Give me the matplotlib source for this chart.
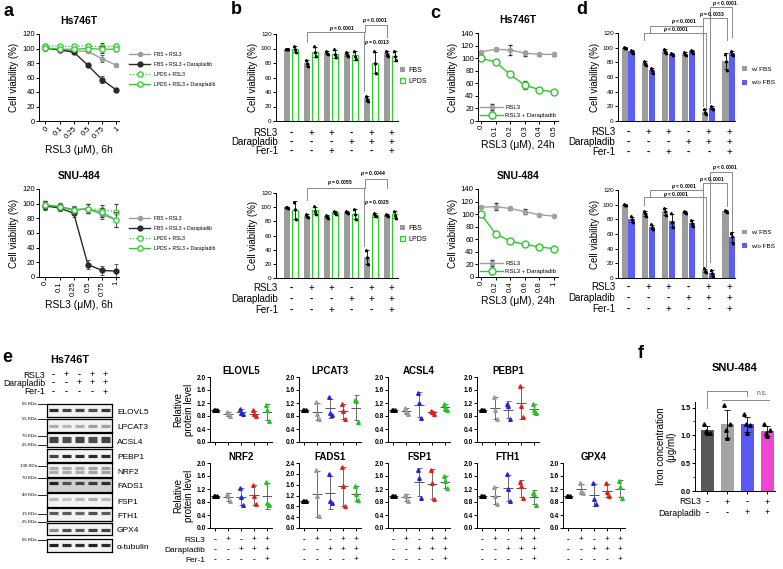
import matplotlib
matplotlib.use('Agg')
import matplotlib.pyplot as plt
import matplotlib.transforms as mtransforms
from matplotlib.lines import Line2D
from matplotlib.patches import Patch
import numpy as np

plt.rcParams['font.family'] = ['Liberation Sans', 'DejaVu Sans']
plt.rcParams['axes.linewidth'] = 0.7
plt.rcParams['mathtext.fontset'] = 'custom'
plt.rcParams['mathtext.it'] = 'Liberation Sans:italic:bold'

W, H = 783, 569
fig = plt.figure(figsize=(W / 100, H / 100), dpi=100)

GRAY = '#9c9c9c'
DARK = '#2a2a2a'
GREEN = '#2dc92d'
BLUE = '#5c5cf6'

# ---------------- data ----------------
# a: RSL3 dose, 6h (mean, sd)
a_dose = ['0', '0.1', '0.25', '0.5', '0.75', '1']
a_labels = ['FBS + RSL3', 'FBS + RSL3 + Darapladib', 'LPDS + RSL3', 'LPDS + RSL3 + Darapladib']
a_hs_fbs = [100, 98, 97, 96, 86, 77]
a_hs_fbs_dara = [101, 98, 95, 77, 57, 43]
a_hs_lpds = [104, 103, 103, 104, 102, 104]
a_hs_lpds_dara = [101, 99, 99, 100, 99, 99]
a_hs_err = [2, 2, 2, 2, 5, 2]
a_snu_fbs = [98, 96, 92, 93, 85, 78]
a_snu_fbs_dara = [97, 94, 87, 17, 9, 8]
a_snu_lpds = [98, 97, 91, 93, 92, 89]
a_snu_lpds_dara = [98, 96, 91, 93, 88, 78]
a_snu_err = [5, 4, 5, 6, 6, 10]

# b / d: treatment groups
cond_rsl3 = ['-', '+', '+', '-', '+', '+']
cond_dara = ['-', '-', '-', '+', '+', '+']
cond_fer1 = ['-', '-', '+', '-', '-', '+']
b_hs_fbs = [[100, 100, 99], [84, 80, 76], [97, 94, 92], [95, 92, 89], [35, 31, 28], [97, 93, 90]]
b_hs_lpds = [[104, 99, 95], [103, 95, 89], [99, 92, 88], [97, 90, 85], [96, 80, 66], [97, 89, 84]]
b_snu_fbs = [[100, 100, 99], [90, 88, 86], [89, 87, 85], [94, 93, 92], [40, 30, 20], [91, 89, 87]]
b_snu_lpds = [[108, 97, 83], [101, 95, 90], [95, 93, 91], [97, 90, 84], [92, 89, 87], [95, 89, 85]]
d_hs_fbs = [[101, 100, 99], [82, 79, 77], [98, 95, 93], [94, 92, 90], [16, 12, 10], [92, 82, 70]]
d_hs_nofbs = [[97, 95, 93], [72, 69, 66], [93, 91, 90], [97, 95, 93], [20, 18, 16], [95, 92, 90]]
d_snu_fbs = [[101, 100, 99], [92, 88, 85], [96, 91, 86], [91, 90, 89], [13, 10, 8], [93, 91, 90]]
d_snu_nofbs = [[84, 80, 77], [73, 69, 67], [88, 77, 70], [79, 75, 71], [11, 7, 3], [62, 57, 48]]

# c: RSL3 dose, 24h
c_hs_dose = [0, 0.1, 0.2, 0.3, 0.4, 0.5]
c_hs_rsl3 = [110, 114, 113, 108, 106, 106]
c_hs_rsl3_err = [2, 2, 8, 4, 2, 2]
c_hs_dara = [100, 94, 74, 57, 50, 46]
c_hs_dara_err = [2, 3, 2, 6, 2, 2]
c_snu_dose = [0, 0.2, 0.4, 0.6, 0.8, 1.0]
c_snu_rsl3 = [111, 112, 109, 104, 99, 97]
c_snu_rsl3_err = [2, 5, 2, 4, 2, 2]
c_snu_dara = [100, 69, 57, 52, 48, 45]
c_snu_dara_err = [1, 3, 2, 2, 2, 2]

# e: western blot
e_rsl3 = ['-', '+', '-', '+', '+']
e_dara = ['-', '-', '+', '+', '+']
e_fer1 = ['-', '-', '-', '-', '+']
blot_names = ['ELOVL5', 'LPCAT3', 'ACSL4', 'PEBP1', 'NRF2', 'FADS1', 'FSP1', 'FTH1', 'GPX4', 'α-tubulin']
blot_kda = ['55 KDa', '55 KDa', '70 KDa', '25 KDa', '130 KDa', '70 KDa', '40 KDa', '15 KDa', '25 KDa', '55 KDa']
band_elovl5 = [0.9, 0.8, 0.8, 0.75, 0.85]
band_lpcat3 = [0.35, 0.3, 0.35, 0.4, 0.4]
band_acsl4 = [0.8, 0.75, 0.8, 0.75, 0.8]
band_pebp1 = [0.8, 0.9, 0.9, 0.9, 0.9]
band_nrf2 = [0.35, 0.35, 0.35, 0.4, 0.4]
band_fads1 = [0.95, 0.75, 0.8, 0.85, 0.9]
band_fsp1 = [0.3, 0.25, 0.3, 0.35, 0.3]
band_fth1 = [0.7, 0.7, 0.65, 0.75, 0.7]
band_gpx4 = [0.5, 0.75, 0.7, 0.8, 0.8]
band_tub = [0.95, 0.9, 0.9, 0.95, 0.9]

# e: quantification, 3 replicates per lane
q_elovl5 = [[1.0, 1.0, 0.98], [0.93, 0.88, 0.79], [1.03, 0.88, 0.85], [0.97, 0.85, 0.81], [1.15, 0.98, 0.66]]
q_lpcat3 = [[1.0, 0.99, 0.98], [1.22, 0.86, 0.72], [1.37, 0.9, 0.83], [1.18, 0.95, 0.72], [1.3, 1.25, 0.62]]
q_acsl4 = [[1.0, 0.99, 0.98], [1.06, 0.95, 0.85], [1.5, 1.2, 0.73], [0.96, 0.92, 0.87], [1.18, 1.05, 0.98]]
q_pebp1 = [[1.0, 0.99, 0.98], [1.4, 1.0, 0.72], [1.18, 1.12, 0.7], [1.72, 1.1, 0.77], [1.18, 0.98, 0.88]]
q_nrf2 = [[1.0, 0.99, 0.98], [1.06, 0.98, 0.83], [1.22, 0.95, 0.7], [1.33, 1.0, 0.73], [1.43, 0.78, 0.72]]
q_fads1 = [[1.0, 0.99, 0.98], [2.13, 1.2, 0.45], [2.0, 1.0, 0.93], [2.25, 1.55, 0.82], [1.55, 1.25, 1.02]]
q_fsp1 = [[1.0, 0.99, 0.98], [1.03, 0.98, 0.82], [1.78, 1.55, 0.93], [1.8, 1.4, 0.88], [1.6, 1.45, 1.22]]
q_fth1 = [[1.0, 0.99, 0.98], [1.25, 0.98, 0.73], [1.65, 1.2, 0.83], [1.42, 1.3, 0.93], [1.08, 1.05, 0.7]]
q_gpx4 = [[1.0, 0.99, 0.98], [1.38, 1.15, 1.08], [1.4, 0.88, 0.75], [1.38, 1.1, 0.98], [1.45, 1.25, 0.93]]

# f: iron concentration
f_rsl3 = ['-', '+', '-', '+']
f_dara = ['-', '-', '+', '+']
f_points = [[1.2, 1.05, 1.05, 1.08], [1.55, 1.2, 0.95, 1.1], [1.38, 1.18, 1.05, 1.2], [1.2, 1.1, 0.98, 1.05]]
f_colors = ['#585858', '#a4a4a4', '#5a5af2', '#f044d4']


# ---------------- helpers ----------------
def px_axes(x0, y0, w, h):
    return fig.add_axes([x0 / W, 1 - (y0 + h) / H, w / W, h / H])


def fy(ypx):
    return 1 - ypx / H


def fx(xpx):
    return xpx / W


def style(ax, fs=5.5):
    ax.spines['top'].set_visible(False)
    ax.spines['right'].set_visible(False)
    ax.tick_params(labelsize=fs, length=2, width=0.7, pad=1)


def cond_rows(ax, rows, names, ys, label_right, fs, sfs):
    tr = mtransforms.blended_transform_factory(ax.transData, fig.transFigure)
    for name, signs, y in zip(names, rows, ys):
        fig.text(fx(label_right), fy(y), name, ha='right', va='center', fontsize=fs)
        for i, s in enumerate(signs):
            ax.text(i, fy(y), s, transform=tr, ha='center', va='center', fontsize=sfs,
                    fontweight='bold' if s == '-' else 'normal')


def bracket(ax, xs, ys):
    ax.plot(xs, ys, color='#8a8a8a', lw=0.7, clip_on=False)


def ptext(ax, x, y, s, fs=3.6):
    ax.text(x, y, s, ha='center', va='center', fontsize=fs, fontweight='bold', clip_on=False)


def letter(x, y, s):
    fig.text(fx(x), fy(y), s, fontsize=13, fontweight='bold', ha='center', va='center')


# ---------------- panel a ----------------
a_styles = [dict(color=GRAY, marker='o', ms=3, lw=1, zorder=2),
            dict(color=DARK, marker='o', ms=3.5, lw=1, zorder=3),
            dict(color=GREEN, marker='o', ms=3.8, lw=0.9, ls=':', mfc='white', mew=0.9, zorder=4),
            dict(color=GREEN, marker='o', ms=3.8, lw=0.9, mfc='white', mew=0.9, zorder=5)]


def dose_panel(ax, series, err, rot):
    x = np.arange(len(a_dose))
    for y, st in zip(series, a_styles):
        ax.errorbar(x, y, yerr=err, capsize=1.2, elinewidth=0.6, capthick=0.6, ecolor='#444444', **st)
    ax.set_xlim(-0.45, 5.2)
    ax.set_ylim(0, 120)
    ax.set_yticks(range(0, 121, 20))
    ax.set_xticks(x)
    if rot == 45:
        ax.set_xticklabels(a_dose, rotation=45, ha='right', rotation_mode='anchor')
    else:
        ax.set_xticklabels(a_dose, rotation=90)
    style(ax, 5.5)
    ax.set_ylabel('Cell viability (%)', fontsize=7, labelpad=2)
    ax.set_xlabel('RSL3 (μM), 6h', fontsize=7.5, labelpad=3)


ax = px_axes(39, 34, 80, 87)
dose_panel(ax, [a_hs_fbs, a_hs_fbs_dara, a_hs_lpds, a_hs_lpds_dara], a_hs_err, 45)
ax.set_title('Hs746T', fontsize=7.5, fontweight='bold', pad=7)
handles = [Line2D([], [], **{k: v for k, v in st.items() if k != 'zorder'}) for st in a_styles]
fig.legend(handles, a_labels, loc='upper left', bbox_to_anchor=(fx(129), fy(52)), fontsize=3.6,
           frameon=False, handlelength=4.2, handletextpad=0.8, labelspacing=1.0, borderpad=0, borderaxespad=0)

ax = px_axes(39, 189, 80, 88)
dose_panel(ax, [a_snu_fbs, a_snu_fbs_dara, a_snu_lpds, a_snu_lpds_dara], a_snu_err, 90)
ax.set_title('SNU-484', fontsize=7.5, fontweight='bold', pad=7)
fig.legend(handles, a_labels, loc='upper left', bbox_to_anchor=(fx(129), fy(216)), fontsize=3.6,
           frameon=False, handlelength=4.2, handletextpad=0.8, labelspacing=1.0, borderpad=0, borderaxespad=0)
letter(8, 12, 'a')


# ---------------- panels b / d ----------------
def bar_panel(ax, g1, g2, c1, c2, open2, off, width):
    x = np.arange(6)
    for pts, o, col in [(g1, -off, c1), (g2, off, c2)]:
        m = np.array([np.mean(p) for p in pts])
        sd = np.array([np.std(p, ddof=1) for p in pts])
        if open2 and col == c2:
            ax.bar(x + o, m, width=width, facecolor='white', edgecolor=col, lw=0.9, zorder=2)
        else:
            ax.bar(x + o, m, width=width, color=col, zorder=2)
        ax.errorbar(x + o, m, yerr=sd, fmt='none', ecolor='black', elinewidth=0.6, capsize=1.1, capthick=0.6, zorder=3)
        for i, p in enumerate(pts):
            ax.plot(x[i] + o + np.array([-0.05, 0.0, 0.05]), p, '^', ms=1.6, color='black', zorder=4)
    ax.set_ylim(0, 120)
    ax.set_yticks(range(0, 121, 20))
    ax.set_xticks([])
    style(ax, 4.6)
    ax.set_ylabel('Cell viability (%)', fontsize=7, labelpad=2)


ax = px_axes(276, 34, 122, 87)
bar_panel(ax, b_hs_fbs, b_hs_lpds, GRAY, GREEN, True, 0.2, 0.3)
ax.set_xlim(-0.75, 5.35)
cond_rows(ax, [cond_rsl3, cond_dara, cond_fer1], ['RSL3', 'Darapladib', 'Fer-1'], [133, 142, 151], 278, 7, 7)
bracket(ax, [0.8, 0.8, 3.65, 3.65], [109, 123, 123, 42])
bracket(ax, [3.7, 3.7, 4.8, 4.8], [123, 132, 132, 116])
ptext(ax, 2.55, 128, r'$p$ < 0.0001')
ptext(ax, 4.2, 139, r'$p$ < 0.0001')
ptext(ax, 4.3, 108, r'$p$ = 0.0013')
ax.legend([Patch(facecolor=GRAY), Patch(facecolor='white', edgecolor=GREEN, lw=0.9)], ['FBS', 'LPDS'],
          loc='upper left', bbox_to_anchor=(1.02, 0.62), fontsize=5, frameon=False, handlelength=0.7,
          handleheight=0.7, handletextpad=0.4, labelspacing=0.5, borderaxespad=0, borderpad=0)

ax = px_axes(276, 193, 122, 85)
bar_panel(ax, b_snu_fbs, b_snu_lpds, GRAY, GREEN, True, 0.2, 0.3)
ax.set_xlim(-0.75, 5.35)
cond_rows(ax, [cond_rsl3, cond_dara, cond_fer1], ['RSL3', 'Darapladib', 'Fer-1'], [288, 299, 310], 278, 7, 7)
bracket(ax, [0.8, 0.8, 3.65, 3.65], [110, 127, 127, 45])
bracket(ax, [3.7, 3.7, 4.8, 4.8], [127, 140, 140, 127])
ptext(ax, 2.45, 135, r'$p$ = 0.0055')
ptext(ax, 4.1, 148, r'$p$ = 0.0044')
ptext(ax, 4.3, 107, r'$p$ = 0.0025')
ax.legend([Patch(facecolor=GRAY), Patch(facecolor='white', edgecolor=GREEN, lw=0.9)], ['FBS', 'LPDS'],
          loc='upper left', bbox_to_anchor=(1.02, 0.62), fontsize=5, frameon=False, handlelength=0.7,
          handleheight=0.7, handletextpad=0.4, labelspacing=0.5, borderaxespad=0, borderpad=0)
letter(236, 10, 'b')

ax = px_axes(618, 33, 117, 88)
bar_panel(ax, d_hs_fbs, d_hs_nofbs, GRAY, BLUE, False, 0.17, 0.3)
ax.set_xlim(-0.5, 5.3)
cond_rows(ax, [cond_rsl3, cond_dara, cond_fer1], ['RSL3', 'Darapladib', 'Fer-1'], [132, 142, 152], 615, 7, 7)
bracket(ax, [0.8, 0.8, 3.85, 3.85], [110, 120, 120, 18])
bracket(ax, [1.1, 1.1, 3.7, 3.7], [120, 130, 130, 20])
bracket(ax, [3.7, 3.7, 4.9, 4.9], [130, 140.5, 140.5, 110])
bracket(ax, [4.05, 4.05, 5.15, 5.15], [25, 155.5, 155.5, 114])
ptext(ax, 2.4, 124.5, r'$p$ < 0.0001')
ptext(ax, 2.75, 135, r'$p$ < 0.0001')
ptext(ax, 4.15, 145, r'$p$ = 0.0033')
ptext(ax, 4.8, 160, r'$p$ < 0.0001')
ax.legend([Patch(facecolor=GRAY), Patch(facecolor=BLUE)], ['w/ FBS', 'w/o FBS'],
          loc='upper left', bbox_to_anchor=(1.06, 0.62), fontsize=4.6, frameon=False, handlelength=0.8,
          handleheight=0.8, handletextpad=0.6, labelspacing=1.2, borderaxespad=0, borderpad=0)

ax = px_axes(618, 190, 117, 88)
bar_panel(ax, d_snu_fbs, d_snu_nofbs, GRAY, BLUE, False, 0.17, 0.3)
ax.set_xlim(-0.5, 5.3)
cond_rows(ax, [cond_rsl3, cond_dara, cond_fer1], ['RSL3', 'Darapladib', 'Fer-1'], [287, 298, 309], 615, 7, 7)
bracket(ax, [0.8, 0.8, 3.85, 3.85], [100, 110, 110, 15])
bracket(ax, [1.1, 1.1, 3.7, 3.7], [110, 120, 120, 15])
bracket(ax, [3.7, 3.7, 4.9, 4.9], [120, 130, 130, 98])
bracket(ax, [4.05, 4.05, 5.15, 5.15], [22, 145, 145, 64])
ptext(ax, 2.4, 114.5, r'$p$ < 0.0001')
ptext(ax, 2.75, 125, r'$p$ < 0.0001')
ptext(ax, 4.15, 135, r'$p$ < 0.0001')
ptext(ax, 4.8, 150, r'$p$ < 0.0001')
ax.legend([Patch(facecolor=GRAY), Patch(facecolor=BLUE)], ['w/ FBS', 'w/o FBS'],
          loc='upper left', bbox_to_anchor=(1.06, 0.55), fontsize=4.6, frameon=False, handlelength=0.8,
          handleheight=0.8, handletextpad=0.6, labelspacing=1.2, borderaxespad=0, borderpad=0)
letter(582, 10, 'd')


# ---------------- panel c ----------------
def c_panel(ax, dose, r, re, d, de, xmax, title):
    ax.errorbar(dose, r, yerr=re, color='#a0a0a0', marker='o', ms=3, lw=1, capsize=1.5,
                elinewidth=0.6, ecolor='#333333', label='RSL3')
    ax.errorbar(dose, d, yerr=de, color=GREEN, marker='o', ms=5, mfc='white', mew=1, lw=1, capsize=1.5,
                elinewidth=0.6, ecolor='#333333', label='RSL3 + Darapladib')
    ax.set_xlim(-0.04 * xmax, 1.055 * xmax)
    ax.set_ylim(0, 140)
    ax.set_yticks(range(0, 141, 20))
    ax.set_xticks(dose)
    ax.set_xticklabels([f'{v:g}' for v in dose], rotation=90)
    style(ax, 5.6)
    ax.set_ylabel('Cell viability (%)', fontsize=7, labelpad=2)
    ax.set_xlabel('RSL3 (μM), 24h', fontsize=7.5, labelpad=3)
    ax.set_title(title, fontsize=7.5, fontweight='bold', pad=7)
    ax.legend(loc='lower left', bbox_to_anchor=(0.02, 0.03), fontsize=4.3, frameon=False,
              handlelength=4, handletextpad=0.3, labelspacing=0.5, borderpad=0, borderaxespad=0)


ax = px_axes(478, 33, 80, 88)
c_panel(ax, c_hs_dose, c_hs_rsl3, c_hs_rsl3_err, c_hs_dara, c_hs_dara_err, 0.5, 'Hs746T')
ax = px_axes(478, 189, 80, 88)
c_panel(ax, c_snu_dose, c_snu_rsl3, c_snu_rsl3_err, c_snu_dara, c_snu_dara_err, 1.0, 'SNU-484')
letter(435, 14, 'c')

# ---------------- panel e: blots ----------------
letter(7, 358, 'e')
fig.text(fx(70), fy(360), 'Hs746T', fontsize=7.8, fontweight='bold', ha='center', va='center')
box_tops = [404, 419, 433, 449, 463, 478, 493, 508, 523, 539]
box_h = [13, 13, 14, 13, 14, 14, 14, 13, 12, 13]
band_rows = [[0.55], [0.5], [0.62, 0.4], [0.5], [0.66, 0.36], [0.62], [0.55], [0.6], [0.45], [0.55]]
kda_y = [404, 419, 436, 445, 466, 478, 495, 514, 522, 540]
blot_bands = [band_elovl5, band_lpcat3, band_acsl4, band_pebp1, band_nrf2,
              band_fads1, band_fsp1, band_fth1, band_gpx4, band_tub]
blot_axes = []
for k in range(len(blot_names)):
    bx = px_axes(47, box_tops[k], 65, box_h[k])
    bx.set_facecolor('#d0d0d0' if blot_names[k] == 'FADS1' else '#f3f3f3')
    for yy in band_rows[k]:
        for i, v in enumerate(blot_bands[k]):
            bx.hlines(yy, i - 0.38, i + 0.38, color=str(1 - 0.92 * v), lw=2.3)
    bx.set_xlim(-0.5, 4.5)
    bx.set_ylim(0, 1)
    bx.set_xticks([])
    bx.set_yticks([])
    for s in bx.spines.values():
        s.set_linewidth(0.9)
    fig.text(fx(117), fy(box_tops[k] + box_h[k] / 2 + 2), blot_names[k], fontsize=6, va='center')
    fig.text(fx(37), fy(kda_y[k]), blot_kda[k], fontsize=3.2, va='center', ha='right')
    fig.add_artist(Line2D([fx(38), fx(46)], [fy(kda_y[k]), fy(kda_y[k])], color='black', lw=0.6))
    blot_axes.append(bx)
cond_rows(blot_axes[0], [e_rsl3, e_dara, e_fer1], ['RSL3', 'Darapladib', 'Fer-1'], [375, 383, 392], 45, 6.2, 6.2)

# ---------------- panel e: quantification ----------------
q_sets = [q_elovl5, q_lpcat3, q_acsl4, q_pebp1, q_nrf2, q_fads1, q_fsp1, q_fth1, q_gpx4]
q_titles = ['ELOVL5', 'LPCAT3', 'ACSL4', 'PEBP1', 'NRF2', 'FADS1', 'FSP1', 'FTH1', 'GPX4']
q_pos = [(210, 377), (299, 377), (388, 377), (477, 377),
         (210, 463), (299, 463), (388, 463), (477, 463), (563, 463)]
q_colors = ['black', '#9a9a9a', '#2424e6', '#e41c1c', '#1ec81e']
for k, pts in enumerate(q_sets):
    qx = px_axes(q_pos[k][0], q_pos[k][1], 62, 65)
    for i, p in enumerate(pts):
        m = np.mean(p)
        sd = np.std(p, ddof=1)
        qx.errorbar(i, m, yerr=sd, fmt='none', ecolor='#555555', elinewidth=0.6, capsize=1.8, capthick=0.6)
        qx.hlines(m, i - 0.38, i + 0.38, color='#555555', lw=0.7)
        qx.plot(i + np.array([-0.12, 0.0, 0.12]), p, '^', ms=2.6, color=q_colors[i], clip_on=False)
    ymax = 2.4 if q_titles[k] == 'FADS1' else 2.0
    qx.set_ylim(0, ymax)
    qx.set_yticks(np.arange(0, ymax + 0.01, 0.4))
    qx.set_yticklabels([f'{v:.1f}' for v in np.arange(0, ymax + 0.01, 0.4)], fontweight='bold')
    qx.set_xlim(-0.4, 4.35)
    qx.set_xticks(range(5))
    qx.set_xticklabels([])
    style(qx, 4.8)
    qx.set_title(q_titles[k], fontsize=7, fontweight='bold', pad=2)
    if q_pos[k][0] == 210:
        qx.set_ylabel('Relative\nprotein level', fontsize=7, labelpad=2, linespacing=1.0)
    if q_pos[k][1] == 463:
        if q_pos[k][0] == 210:
            cond_rows(qx, [e_rsl3, e_dara, e_fer1], ['RSL3', 'Darapladib', 'Fer-1'], [540, 550, 560], 205, 6, 6)
        else:
            tr = mtransforms.blended_transform_factory(qx.transData, fig.transFigure)
            for y, signs in zip([540, 550, 560], [e_rsl3, e_dara, e_fer1]):
                for i, s in enumerate(signs):
                    qx.text(i, fy(y), s, transform=tr, ha='center', va='center', fontsize=6,
                            fontweight='bold' if s == '-' else 'normal')

# ---------------- panel f ----------------
letter(641, 353, 'f')
ax = px_axes(695, 402, 80, 89)
xf = np.arange(4)
fm = [np.mean(p) for p in f_points]
fsd = [np.std(p, ddof=1) for p in f_points]
ax.bar(xf, fm, width=0.65, color=f_colors, zorder=2)
ax.errorbar(xf, fm, yerr=fsd, fmt='none', ecolor='black', elinewidth=0.6, capsize=2, capthick=0.6, zorder=3)
for i, p in enumerate(f_points):
    ax.plot(i + np.array([-0.15, 0.15, 0.0, -0.05]), p, '^', ms=2.5, color='black', zorder=4)
ax.set_xlim(-0.6, 3.4)
ax.set_ylim(0, 1.6)
ax.set_yticks([0, 0.5, 1.0, 1.5])
ax.set_yticklabels(['0.0', '0.5', '1.0', '1.5'], fontweight='bold')
ax.set_yticks([0.25, 0.75, 1.25], minor=True)
ax.tick_params(axis='y', which='minor', length=1.2, width=0.6)
ax.set_xticks(xf)
ax.set_xticklabels([])
style(ax, 5.2)
ax.set_title('SNU-484', fontsize=8, fontweight='bold', pad=22)
ax.set_ylabel('Iron concentration\n(μg/ml)', fontsize=7, labelpad=3, linespacing=1.1)
bracket(ax, [0, 0, 2, 2], [1.5, 1.79, 1.79, 1.7])
bracket(ax, [0.75, 3.1], [1.63, 1.63])
ax.text(2.75, 1.76, 'n.s.', fontsize=4.8, ha='center', va='center', color='#555555')
cond_rows(ax, [f_rsl3, f_dara], ['RSL3', 'Darapladib'], [502, 513], 701, 6.3, 6.3)

fig.savefig('out.png', dpi=100)
